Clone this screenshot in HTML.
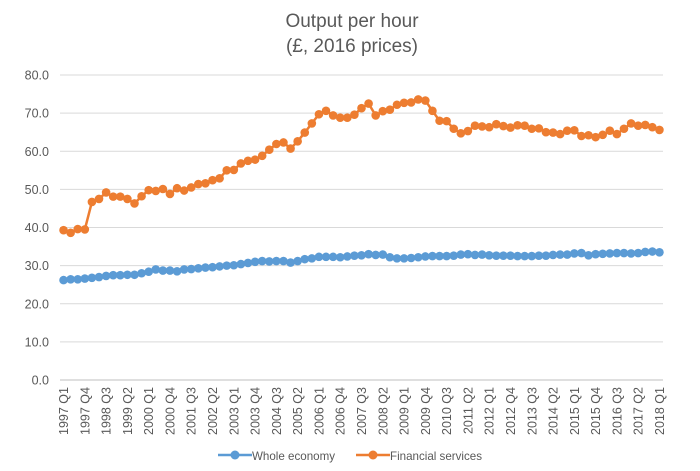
<!DOCTYPE html>
<html><head><meta charset="utf-8"><style>
body{margin:0;background:#fff;}
svg{display:block;font-family:"Liberation Sans",sans-serif;}
</style></head><body>
<svg id="c" width="700" height="471" xmlns="http://www.w3.org/2000/svg">
<rect width="700" height="471" fill="#fff"/>
<text x="352" y="27" text-anchor="middle" font-size="19" fill="#595959">Output per hour</text>
<text x="352" y="52" text-anchor="middle" font-size="19" fill="#595959">(£, 2016 prices)</text>
<g id="g"></g>
<g font-size="12" fill="#595959">
<line x1="218" y1="455" x2="252" y2="455" stroke="#5B9BD5" stroke-width="2.5"/>
<circle cx="235" cy="455" r="4.5" fill="#5B9BD5"/>
<text x="252" y="460" textLength="83" lengthAdjust="spacingAndGlyphs">Whole economy</text>
<line x1="356" y1="455" x2="390" y2="455" stroke="#ED7D31" stroke-width="2.5"/>
<circle cx="373" cy="455" r="4.5" fill="#ED7D31"/>
<text x="390" y="460" textLength="92" lengthAdjust="spacingAndGlyphs">Financial services</text>
</g>
</svg>
<script>
var fin=[39.3,38.6,39.6,39.5,46.7,47.5,49.2,48.1,48.1,47.5,46.3,48.2,49.8,49.6,50.1,48.8,50.3,49.7,50.5,51.4,51.6,52.4,52.9,55.0,55.1,56.8,57.5,57.8,58.8,60.4,61.9,62.3,60.7,62.6,64.9,67.3,69.7,70.6,69.4,68.8,68.8,69.6,71.3,72.5,69.4,70.5,70.9,72.2,72.7,72.8,73.6,73.3,70.6,68.0,67.9,65.9,64.7,65.3,66.7,66.5,66.3,67.1,66.6,66.2,66.8,66.7,65.9,66.0,65.0,64.9,64.5,65.4,65.5,64.0,64.2,63.7,64.3,65.4,64.5,65.9,67.3,66.7,66.9,66.3,65.6];
var whl=[26.2,26.4,26.4,26.6,26.8,27.0,27.3,27.5,27.5,27.6,27.6,28.0,28.4,29.0,28.7,28.7,28.5,29.0,29.1,29.3,29.5,29.6,29.8,30.0,30.1,30.4,30.7,31.0,31.2,31.1,31.2,31.2,30.8,31.2,31.7,31.9,32.3,32.3,32.3,32.2,32.4,32.6,32.7,33.0,32.8,32.9,32.2,31.9,31.9,32.0,32.2,32.4,32.5,32.5,32.5,32.6,32.9,33.0,32.8,32.9,32.7,32.6,32.6,32.6,32.5,32.5,32.5,32.6,32.6,32.8,32.9,32.9,33.2,33.3,32.7,33.0,33.1,33.2,33.3,33.3,33.2,33.3,33.6,33.7,33.5];
var L=60,R=663,Y0=380,Y80=75,n=85,step=(R-L)/n;
function X(i){return L+step*(i+0.5);} function Y(v){return Y0-(Y0-Y80)*v/80;}
var s='';
for(var k=0;k<=8;k++){var y=Y(k*10);s+='<line x1="'+L+'" y1="'+y+'" x2="'+R+'" y2="'+y+'" stroke="'+(k==0?'#bfbfbf':'#d9d9d9')+'" stroke-width="1"/>';
s+='<text x="49" y="'+(y+4.5)+'" text-anchor="end" font-size="12.5" fill="#595959">'+(k*10).toFixed(1)+'</text>';}
for(var i=0;i<n;i+=3){var yr=1997+Math.floor(i/4),q=i%4+1;var x=X(i)+4.5;
s+='<text transform="translate('+x+',387) rotate(-90)" text-anchor="end" font-size="12.5" fill="#595959">'+yr+' Q'+q+'</text>';}
function ser(d,c){var p='';for(var i=0;i<d.length;i++)p+=(i?'L':'M')+X(i).toFixed(2)+','+Y(d[i]).toFixed(2);
var o='<path d="'+p+'" fill="none" stroke="'+c+'" stroke-width="2.5"/>';
for(var i=0;i<d.length;i++)o+='<circle cx="'+X(i).toFixed(2)+'" cy="'+Y(d[i]).toFixed(2)+'" r="4.3" fill="'+c+'"/>';return o;}
s+=ser(whl,'#5B9BD5')+ser(fin,'#ED7D31');
document.getElementById('g').innerHTML=s;
</script>
</body></html>
